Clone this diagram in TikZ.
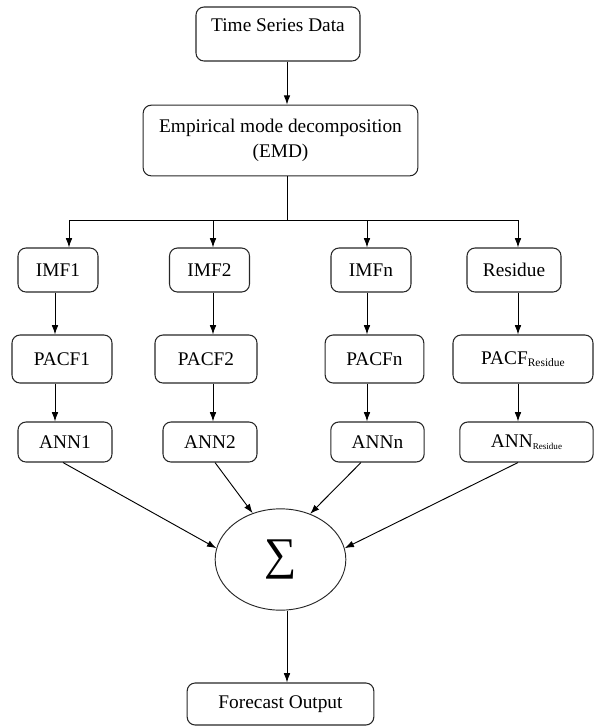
\documentclass[tikz,border=0pt]{standalone}
\usepackage{fontspec}
\setmainfont{Liberation Serif}
\usetikzlibrary{arrows.meta,shapes.geometric}

\tikzset{
  block/.style={draw=black!85, line width=0.8pt, rounded corners=6pt, inner sep=0pt,
    align=center, font=\fontsize{14.5}{18.75}\selectfont},
  sumnode/.style={draw=black!85, line width=0.7pt, ellipse, inner sep=0pt},
  arr/.style={-{Latex[length=7pt,width=5pt]}, line width=0.7pt},
}

\begin{document}
\begin{tikzpicture}[x=0.75pt, y=-0.75pt]
  \useasboundingbox (0,0) rectangle (594,726);

  % Input and decomposition
  \node[block, minimum width=123pt, text height=18pt, text depth=22.5pt] (tsd) at (278,34) {Time Series Data};
  \node[block, minimum width=206pt, minimum height=53pt] (emd) at (280.5,140.5) {Empirical mode decomposition\\(EMD)};

  % Components
  \node[block, minimum width=60pt, minimum height=33pt] (imf1) at (58,270) {IMF1};
  \node[block, minimum width=60pt, minimum height=33pt] (imf2) at (209.5,270) {IMF2};
  \node[block, minimum width=60pt, minimum height=33pt] (imfn) at (371,270) {IMFn};
  \node[block, minimum width=70.5pt, minimum height=33pt] (res) at (514,270) {Residue};

  % PACF row
  \node[block, minimum width=75pt, minimum height=36pt] (pacf1) at (62,359) {PACF1};
  \node[block, minimum width=76.5pt, minimum height=36pt] (pacf2) at (206,359) {PACF2};
  \node[block, minimum width=74pt, minimum height=36pt] (pacfn) at (374.5,359) {PACFn};
  \node[block, minimum width=105pt, minimum height=36pt] (pacfr) at (523,359) {PACF\raisebox{-1pt}{\fontsize{8.6}{10}\selectfont Residue}};

  % ANN row
  \node[block, minimum width=70.5pt, minimum height=30pt] (ann1) at (65,442) {ANN1};
  \node[block, minimum width=70.5pt, minimum height=30pt] (ann2) at (210,442) {ANN2};
  \node[block, minimum width=70pt, minimum height=30pt] (annn) at (377.5,442) {ANNn};
  \node[block, minimum width=100pt, minimum height=30pt] (annr) at (526.5,442) {ANN\raisebox{-1pt}{\fontsize{6.8}{8}\selectfont Residue}};

  % Summation and output
  \node[sumnode, minimum width=98pt, minimum height=76pt] (sum) at (280.5,559.5) {\raisebox{3pt}{\fontsize{34}{34}\selectfont ∑}};
  \node[block, minimum width=140pt, minimum height=31.5pt] (fo) at (280.5,704) {Forecast Output};

  % Trunk and branches
  \coordinate (trunk) at (287,220);
  \coordinate (in1) at (69,220);
  \coordinate (in2) at (213,220);
  \coordinate (in3) at (367,220);
  \coordinate (in4) at (518,220);
  \draw[arr] (tsd.south -| trunk) -- (emd.north -| trunk);
  \draw[line width=0.7pt] (emd.south -| trunk) -- (trunk);
  \draw[line width=0.7pt] (in1) -- (in4);
  \foreach \i/\n in {1/imf1, 2/imf2, 3/imfn, 4/res}
    \draw[arr] (in\i) -- (in\i |- \n.north);

  % Columns
  \foreach \x/\a/\b/\c in {55/imf1/pacf1/ann1, 213/imf2/pacf2/ann2, 367/imfn/pacfn/annn, 518/res/pacfr/annr} {
    \draw[arr] (\x,0 |- \a.south) -- (\x,0 |- \b.north);
    \draw[arr] (\x,0 |- \b.south) -- (\x,0 |- \c.north);
  }

  % Into the sum
  \foreach \x/\n/\t in {63/ann1/170, 215/ann2/121, 361/annn/57, 518/annr/10}
    \draw[arr] (\x,0 |- \n.south) -- (sum.\t);
  \draw[arr] (sum.south -| trunk) -- (fo.north -| trunk);
\end{tikzpicture}
\end{document}
